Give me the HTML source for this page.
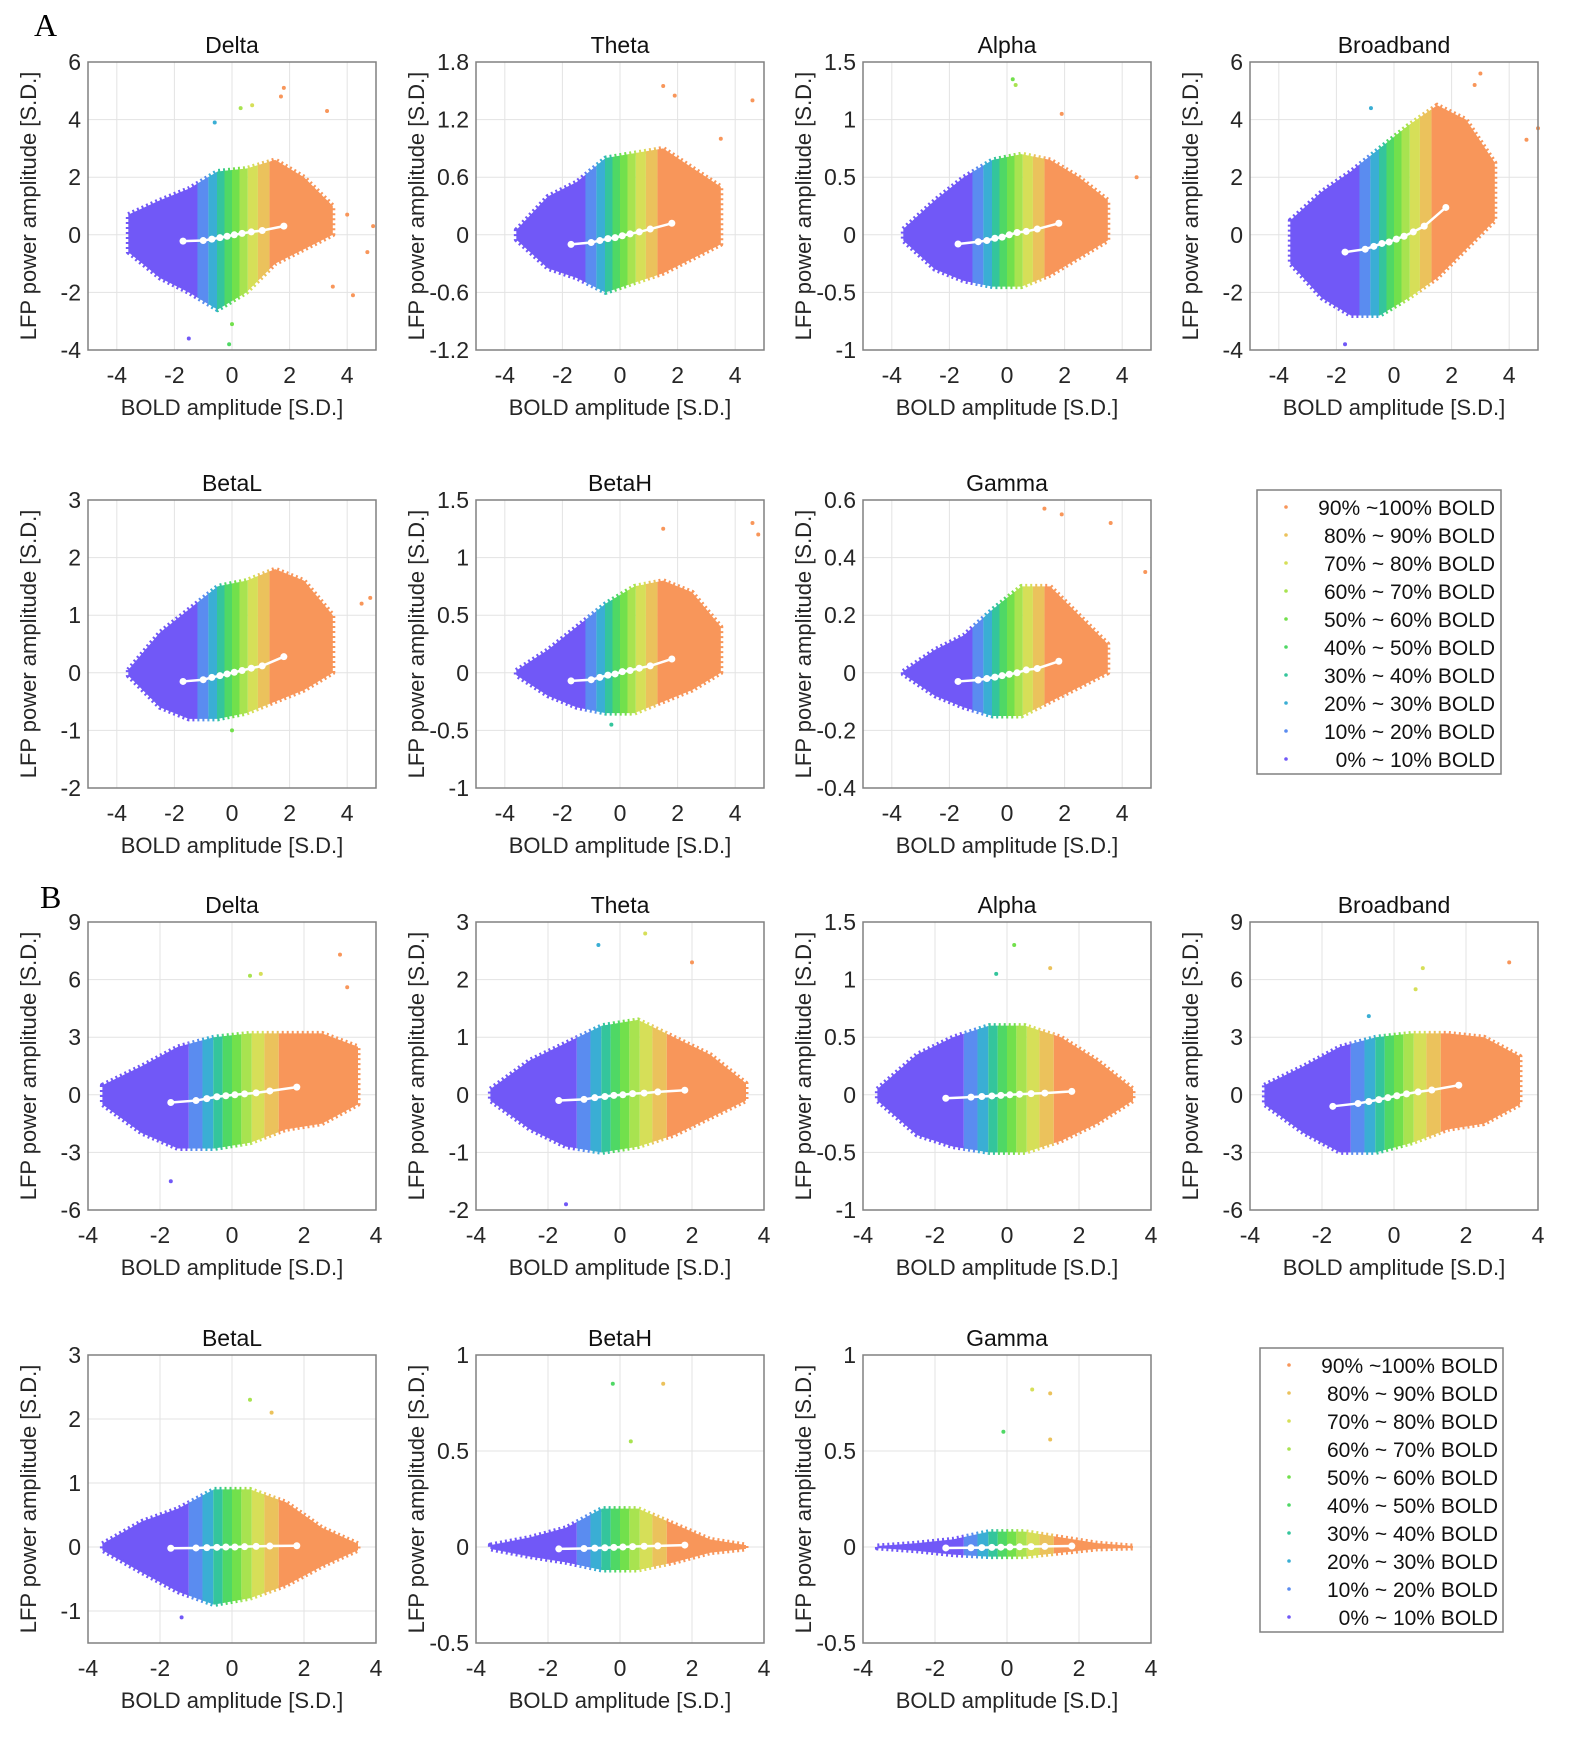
<!DOCTYPE html>
<html><head><meta charset="utf-8">
<style>
body{margin:0;background:#fff;}
svg{display:block;font-family:"Liberation Sans",sans-serif;}
</style></head>
<body>
<svg id="fig" width="1576" height="1744" viewBox="0 0 1576 1744" xmlns="http://www.w3.org/2000/svg">
<rect width="1576" height="1744" fill="#fff"/>
<text x="34" y="36" font-family="Liberation Serif,serif" font-size="32">A</text>
<text x="40" y="908" font-family="Liberation Serif,serif" font-size="32">B</text>
</svg>
<script>
// ---- data ----
const bandNames = ["0% ~ 10% BOLD","10% ~ 20% BOLD","20% ~ 30% BOLD","30% ~ 40% BOLD","40% ~ 50% BOLD","50% ~ 60% BOLD","60% ~ 70% BOLD","70% ~ 80% BOLD","80% ~ 90% BOLD","90% ~100% BOLD"];
const bandColors = ["#7158f7","#5a8cf0","#3aaed4","#34c59c","#4fd865","#72e04c","#a8e350","#d6df58","#ebc25c","#f8965a"];
const bandEdges = [-1.2,-0.82,-0.52,-0.26,0,0.26,0.55,0.9,1.3];
const meanX = [-1.7,-1.0,-0.7,-0.42,-0.17,0.08,0.35,0.67,1.05,1.8];
const envX = [-3.6,-2.5,-1.5,-0.5,0.5,1.5,2.5,3.5];
const panelTitles = ["Delta","Theta","Alpha","Broadband","BetaL","BetaH","Gamma","Delta","Theta","Alpha","Broadband","BetaL","BetaH","Gamma"];
const panelYMin = [-4,-1.2,-1,-4,-2,-1,-0.4,-6,-2,-1,-6,-1.5,-0.5,-0.5];
const panelYMax = [6,1.8,1.5,6,3,1.5,0.6,9,3,1.5,9,3,1,1];
const panelYStep = [2,0.6,0.5,2,1,0.5,0.2,3,1,0.5,3,1,0.5,0.5];
const panelUpper = [
 [0.7,1.2,1.6,2.2,2.3,2.6,2.0,1.0],
 [0.05,0.4,0.55,0.8,0.85,0.9,0.7,0.5],
 [0.05,0.3,0.5,0.65,0.7,0.65,0.5,0.3],
 [0.5,1.5,2.2,3.0,3.8,4.5,4.0,2.5],
 [0.05,0.7,1.1,1.5,1.6,1.8,1.6,1.0],
 [0.02,0.2,0.4,0.6,0.75,0.8,0.7,0.4],
 [0.005,0.08,0.13,0.22,0.3,0.3,0.2,0.1],
 [0.5,1.5,2.5,3.0,3.2,3.2,3.2,2.5],
 [0.1,0.6,0.9,1.2,1.3,1.0,0.7,0.2],
 [0.05,0.35,0.5,0.6,0.6,0.5,0.3,0.05],
 [0.5,1.5,2.5,3.0,3.2,3.2,3.0,2.0],
 [0.05,0.4,0.6,0.9,0.9,0.7,0.3,0.05],
 [0.01,0.05,0.1,0.2,0.2,0.12,0.04,0.01],
 [0.005,0.02,0.04,0.08,0.08,0.05,0.02,0.005]];
const panelLower = [
 [-0.6,-1.5,-2.0,-2.6,-2.0,-1.0,-0.5,0],
 [-0.05,-0.35,-0.45,-0.6,-0.5,-0.4,-0.25,-0.1],
 [-0.05,-0.3,-0.4,-0.45,-0.45,-0.35,-0.2,-0.05],
 [-1,-2.2,-2.8,-2.8,-2.2,-1.5,-0.5,0.5],
 [-0.05,-0.6,-0.8,-0.8,-0.7,-0.5,-0.3,0],
 [-0.02,-0.2,-0.3,-0.35,-0.35,-0.25,-0.15,0],
 [-0.005,-0.08,-0.12,-0.15,-0.15,-0.1,-0.05,0],
 [-0.5,-2,-2.8,-2.8,-2.5,-1.8,-1.5,-0.5],
 [-0.1,-0.6,-0.9,-1.0,-0.9,-0.7,-0.4,-0.1],
 [-0.05,-0.35,-0.45,-0.5,-0.5,-0.4,-0.25,-0.05],
 [-0.5,-2,-3,-3,-2.5,-1.8,-1.5,-0.5],
 [-0.05,-0.4,-0.7,-0.9,-0.8,-0.6,-0.3,-0.05],
 [-0.01,-0.05,-0.08,-0.12,-0.12,-0.08,-0.03,-0.01],
 [-0.005,-0.02,-0.04,-0.05,-0.05,-0.03,-0.01,-0.005]];
const panelMeans = [
 [-0.22,-0.2,-0.15,-0.1,-0.05,0,0.05,0.1,0.15,0.3],
 [-0.1,-0.08,-0.06,-0.04,-0.03,-0.01,0.01,0.03,0.06,0.12],
 [-0.08,-0.06,-0.05,-0.03,-0.02,0,0.02,0.03,0.05,0.1],
 [-0.6,-0.5,-0.4,-0.3,-0.25,-0.15,-0.05,0.1,0.3,0.95],
 [-0.15,-0.12,-0.08,-0.05,-0.02,0.01,0.04,0.08,0.12,0.28],
 [-0.07,-0.06,-0.04,-0.02,-0.01,0.01,0.02,0.04,0.06,0.12],
 [-0.03,-0.025,-0.02,-0.015,-0.01,-0.005,0,0.01,0.015,0.04],
 [-0.4,-0.3,-0.2,-0.1,-0.05,0,0.05,0.1,0.2,0.4],
 [-0.1,-0.08,-0.05,-0.03,-0.01,0,0.02,0.03,0.05,0.08],
 [-0.03,-0.02,-0.015,-0.01,-0.005,0,0.005,0.01,0.015,0.03],
 [-0.6,-0.45,-0.35,-0.25,-0.15,-0.05,0.05,0.15,0.25,0.5],
 [-0.02,-0.015,-0.01,-0.005,0,0,0.005,0.01,0.015,0.02],
 [-0.01,-0.008,-0.006,-0.004,-0.002,0,0.002,0.004,0.006,0.01],
 [-0.005,-0.004,-0.003,-0.002,-0.001,0,0.001,0.002,0.003,0.005]];
// outlier points: [panel, x, y]
const outlierPanel = [0,0,0,0,0,0,0,0,0,0,0,0,0,0, 1,1,1,1, 2,2,2,2, 3,3,3,3,3,3, 4,4,4, 5,5,5,5, 6,6,6,6, 7,7,7,7,7, 8,8,8,8, 9,9,9, 10,10,10,10, 11,11,11, 12,12,12, 13,13,13,13];
const outlierX = [1.8,1.7,0.3,0.7,-0.6,-0.1,3.3,3.5,4.2,4.7,4.9,4.0,0.0,-1.5, 1.5,1.9,3.5,4.6, 0.2,0.3,1.9,4.5, 3.0,2.8,4.6,5.0,-0.8,-1.7, 4.5,4.8,0.0, 1.5,4.6,4.8,-0.3, 1.3,1.9,3.6,4.8, 3.0,3.2,0.5,0.8,-1.7, 0.7,-0.6,-1.5,2.0, 0.2,-0.3,1.2, 3.2,0.8,0.6,-0.7, 0.5,1.1,-1.4, -0.2,0.3,1.2, 0.7,1.2,-0.1,1.2];
const outlierY = [5.1,4.8,4.4,4.5,3.9,-3.8,4.3,-1.8,-2.1,-0.6,0.3,0.7,-3.1,-3.6, 1.55,1.45,1.0,1.4, 1.35,1.3,1.05,0.5, 5.6,5.2,3.3,3.7,4.4,-3.8, 1.2,1.3,-1.0, 1.25,1.3,1.2,-0.45, 0.57,0.55,0.52,0.35, 7.3,5.6,6.2,6.3,-4.5, 2.8,2.6,-1.9,2.3, 1.3,1.05,1.1, 6.9,6.6,5.5,4.1, 2.3,2.1,-1.1, 0.85,0.55,0.85, 0.82,0.8,0.6,0.56];
// ---- layout ----
const cols=[88,476,863,1250], rowsA=[62,500], rowsB=[922,1355], W=288, H=288;
const NS="http://www.w3.org/2000/svg";
const svg=document.getElementById('fig');
function mk(tag,attrs,parent){const e=document.createElementNS(NS,tag);for(const k in attrs)e.setAttribute(k,attrs[k]);(parent||svg).appendChild(e);return e;}
function fmt(v){return (+v.toFixed(3)).toString();}
function bandOf(x){let b=0;while(b<9&&x>=bandEdges[b])b++;return b;}
for(let p=0;p<14;p++){
  const partB=p>=7, idx=p%7;
  const col=idx<4?idx:idx-4, row=idx<4?0:1;
  const L=cols[col], T=(partB?rowsB:rowsA)[row];
  const xmin=partB?-4:-5, xmax=partB?4:5;
  const ymin=panelYMin[p], ymax=panelYMax[p];
  const sx=v=>L+(v-xmin)/(xmax-xmin)*W;
  const sy=v=>T+H-(v-ymin)/(ymax-ymin)*H;
  const g=mk('g',{});
  
  
  for(let x=-4;x<=4;x+=2){const l=mk('line',{x1:sx(x),x2:sx(x),y1:T,y2:T+H,stroke:'#e3e3e3','stroke-width':1},g);
    
    const t=mk('text',{x:sx(x),y:T+H+33,'font-size':23,'text-anchor':'middle',fill:'#262626'},g);t.textContent=x;
    }
  const st=panelYStep[p];
  for(let k=Math.ceil(ymin/st-1e-6);k*st<=ymax+1e-9;k++){const y=k*st;
    const l=mk('line',{x1:L,x2:L+W,y1:sy(y),y2:sy(y),stroke:'#e3e3e3','stroke-width':1},g);
    
    const t=mk('text',{x:L-7,y:sy(y)+8,'font-size':23,'text-anchor':'end',fill:'#262626'},g);t.textContent=fmt(y);
    }
  const up=panelUpper[p], lo=panelLower[p];
  let pts=envX.map((x,i)=>sx(x)+','+sy(up[i]));
  pts=pts.concat(envX.slice().reverse().map((x,i)=>sx(x)+','+sy(lo[envX.length-1-i])));
  const edges=[xmin].concat(bandEdges,[xmax]);
  for(let b=0;b<10;b++){
    const cid='c'+p+'_'+b;
    const cp=mk('clipPath',{id:cid},g);
    mk('rect',{x:sx(edges[b]),y:T,width:sx(edges[b+1])-sx(edges[b]),height:H},cp);
    const poly=mk('polygon',{points:pts.join(' '),fill:bandColors[b],stroke:bandColors[b],'stroke-width':5,'stroke-dasharray':'2 3','stroke-linejoin':'round','clip-path':'url(#'+cid+')'},g);
    
    
  }
  for(let i=0;i<outlierPanel.length;i++){ if(outlierPanel[i]!==p)continue;
    const c=mk('circle',{cx:sx(outlierX[i]),cy:sy(outlierY[i]),r:2,fill:bandColors[bandOf(outlierX[i])]},g);
    }
  const m=panelMeans[p];
  const pl=mk('polyline',{points:meanX.map((x,i)=>sx(x)+','+sy(m[i])).join(' '),fill:'none',stroke:'#fff','stroke-width':2.5},g);
  
  for(let i=0;i<10;i++){const c=mk('circle',{cx:sx(meanX[i]),cy:sy(m[i]),r:3.5,fill:'#fff'},g);
    }
  const bx=mk('rect',{x:L,y:T,width:W,height:H,fill:'none',stroke:'#808080','stroke-width':1.5},g);
  
  const tt=mk('text',{x:L+W/2,y:T-9,'font-size':23,'text-anchor':'middle',fill:'#111'},g);tt.textContent=panelTitles[p];
  
  const xl=mk('text',{x:L+W/2,y:T+H+65,'font-size':22,'text-anchor':'middle',fill:'#262626'},g);xl.textContent='BOLD amplitude [S.D.]';
  
  const yx=L-52, yy=T+H/2;
  const yl=mk('text',{x:yx,y:yy,'font-size':22,'text-anchor':'middle',fill:'#262626',transform:'rotate(-90 '+yx+' '+yy+')'},g);yl.textContent='LFP power amplitude [S.D.]';
  
}
const legBoxes=[[1257,490,244,284],[1260,1348,243,284]];
legBoxes.forEach((bb,li)=>{
  const g=mk('g',{});
  
  
  mk('rect',{x:bb[0],y:bb[1],width:bb[2],height:bb[3],fill:'#fff',stroke:'#808080','stroke-width':1.5},g);
  for(let i=0;i<10;i++){const b=9-i, y=bb[1]+17+i*28;
    const c=mk('circle',{cx:bb[0]+29,cy:y,r:1.8,fill:bandColors[b]},g);
    
    const t=mk('text',{x:bb[0]+238,y:y+8,'font-size':21,'text-anchor':'end',fill:'#111'},g);t.textContent=bandNames[b];
    }
});
</script>
</body></html>
